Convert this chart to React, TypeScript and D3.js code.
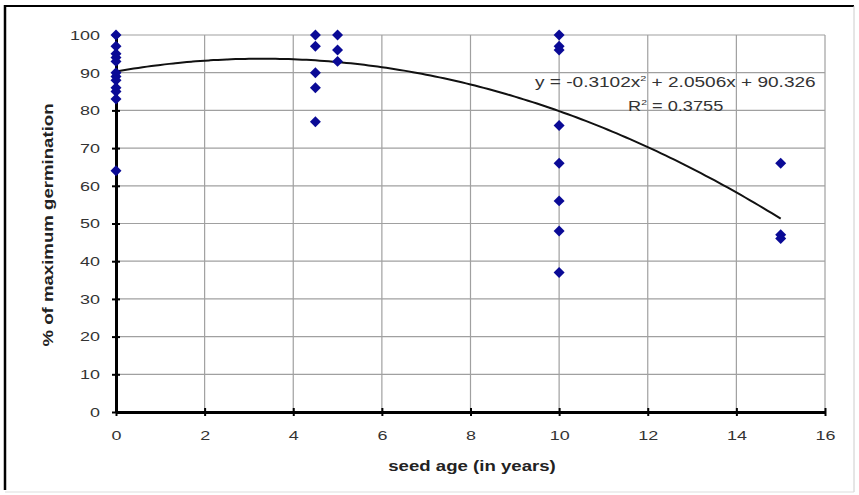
import React, { useEffect, useRef } from "react";
import * as d3 from "d3";

// seed age (years) and % of maximum germination
const ages0 = [0, 0, 0, 0, 0, 0, 0, 0, 0, 0, 0, 0];
const germ0 = [100, 97, 95, 94, 93, 90, 89, 88, 86, 85, 83, 64];
const ages45 = [4.5, 4.5, 4.5, 4.5, 4.5];
const germ45 = [100, 97, 90, 86, 77];
const ages5 = [5, 5, 5];
const germ5 = [100, 96, 93];
const ages10 = [10, 10, 10, 10, 10, 10, 10, 10];
const germ10 = [100, 97, 96, 76, 66, 56, 48, 37];
const ages15 = [15, 15, 15];
const germ15 = [66, 47, 46];

const xTicks = [0, 2, 4, 6, 8, 10, 12, 14, 16];
const yTicks = [0, 10, 20, 30, 40, 50, 60, 70, 80, 90, 100];

// polynomial trendline coefficients shown on the chart
const coefA = -0.3102;
const coefB = 2.0506;
const coefC = 90.326;

const W = 859;
const H = 495;
const SX = 1.33; // the scanned chart has wide text

const App = () => {
  const ref = useRef<SVGSVGElement>(null);

  useEffect(() => {
    const svg = d3.select(ref.current);
    svg.selectAll("*").remove();

    const x = d3.scaleLinear().domain([0, 16]).range([116, 825]);
    const y = d3.scaleLinear().domain([0, 100]).range([412, 35]);
    const font = "'Liberation Sans', Arial, sans-serif";

    svg.append("rect").attr("width", W).attr("height", H).attr("fill", "#fff");

    // outer frame
    svg.append("line").attr("x1", 5).attr("x2", 854).attr("y1", 6).attr("y2", 6)
      .attr("stroke", "#000").attr("stroke-width", 2);
    svg.append("line").attr("x1", 5).attr("x2", 5).attr("y1", 5).attr("y2", 490)
      .attr("stroke", "#000").attr("stroke-width", 2.5);
    svg.append("line").attr("x1", 854).attr("x2", 854).attr("y1", 6).attr("y2", 492)
      .attr("stroke", "#ccc");
    svg.append("line").attr("x1", 5).attr("x2", 854).attr("y1", 492).attr("y2", 492)
      .attr("stroke", "#ddd");

    // grid
    const grid = svg.append("g");
    grid.selectAll(".hy").data(yTicks.slice(1)).enter().append("line")
      .attr("x1", x(0)).attr("x2", x(16))
      .attr("y1", d => y(d)).attr("y2", d => y(d))
      .attr("stroke", "#a0a0a0").attr("stroke-width", 1.2);
    grid.selectAll(".vx").data(xTicks.slice(1)).enter().append("line")
      .attr("x1", d => x(d)).attr("x2", d => x(d))
      .attr("y1", y(0)).attr("y2", y(100))
      .attr("stroke", "#a0a0a0").attr("stroke-width", 1.2);

    // axes
    const xAxis = svg.append("g").attr("transform", `translate(0,${y(0)})`)
      .call(d3.axisBottom(x).tickValues(xTicks).tickSizeInner(8).tickSizeOuter(0).tickPadding(10));
    xAxis.select(".domain").attr("stroke-width", 3);
    xAxis.selectAll(".tick line").attr("stroke-width", 2).attr("transform", "translate(0,-4)");
    xAxis.selectAll("text").attr("font-family", font).attr("font-size", 13.5).attr("fill", "#333")
      .attr("transform", `scale(${SX},1)`);

    const yAxis = svg.append("g").attr("transform", `translate(${x(0)},0)`)
      .call(d3.axisLeft(y).tickValues(yTicks).tickSizeInner(8).tickSizeOuter(0).tickPadding(8));
    yAxis.select(".domain").attr("stroke-width", 3);
    yAxis.selectAll(".tick line").attr("stroke-width", 2).attr("transform", "translate(4,0)");
    yAxis.selectAll("text").attr("font-family", font).attr("font-size", 13.5).attr("fill", "#333")
      .attr("x", -16 / SX).attr("transform", `scale(${SX},1)`);

    // axis titles
    svg.append("text").attr("transform", `translate(472,471) scale(${SX},1)`)
      .attr("text-anchor", "middle")
      .attr("font-family", font).attr("font-size", 14).attr("font-weight", "bold")
      .attr("fill", "#222").text("seed age (in years)");
    svg.append("text").attr("transform", `translate(53,225) rotate(-90) scale(${SX},1)`)
      .attr("text-anchor", "middle").attr("font-family", font).attr("font-size", 14)
      .attr("font-weight", "bold").attr("fill", "#222").text("% of maximum germination");

    // trendline
    const xs = d3.range(0, 15.01, 0.1);
    const line = d3.line<number>()
      .x(d => x(d))
      .y(d => y(coefA * d * d + coefB * d + coefC))
      .curve(d3.curveMonotoneX);
    svg.append("path").attr("d", line(xs)).attr("fill", "none")
      .attr("stroke", "#111").attr("stroke-width", 2);

    // points
    const pts: [number, number][] = [
      ...d3.zip(ages0, germ0),
      ...d3.zip(ages45, germ45),
      ...d3.zip(ages5, germ5),
      ...d3.zip(ages10, germ10),
      ...d3.zip(ages15, germ15),
    ] as [number, number][];
    const sym = d3.symbol().type(d3.symbolSquare).size(60);
    svg.append("g").selectAll("path").data(pts).enter().append("path")
      .attr("d", sym())
      .attr("transform", d => `translate(${x(d[0])},${y(d[1])}) rotate(45)`)
      .attr("fill", "#0a0a96");

    // equation
    const eq = svg.append("text").attr("transform", `translate(535,87) scale(1.36,1)`)
      .attr("font-family", font).attr("font-size", 14).attr("fill", "#333");
    eq.append("tspan").text("y = -0.3102x");
    eq.append("tspan").attr("font-size", 8).attr("dy", -6).text("2");
    eq.append("tspan").attr("dy", 6).text(" + 2.0506x + 90.326");
    const r2 = svg.append("text").attr("transform", `translate(628,111) scale(1.3,1)`)
      .attr("font-family", font).attr("font-size", 14).attr("fill", "#333");
    r2.append("tspan").text("R");
    r2.append("tspan").attr("font-size", 8).attr("dy", -6).text("2");
    r2.append("tspan").attr("dy", 6).text(" = 0.3755");
  }, []);

  return (
    <svg ref={ref} width={W} height={H}
      style={{ position: "absolute", left: 0, top: 0, display: "block" }} />
  );
};

export default App;
